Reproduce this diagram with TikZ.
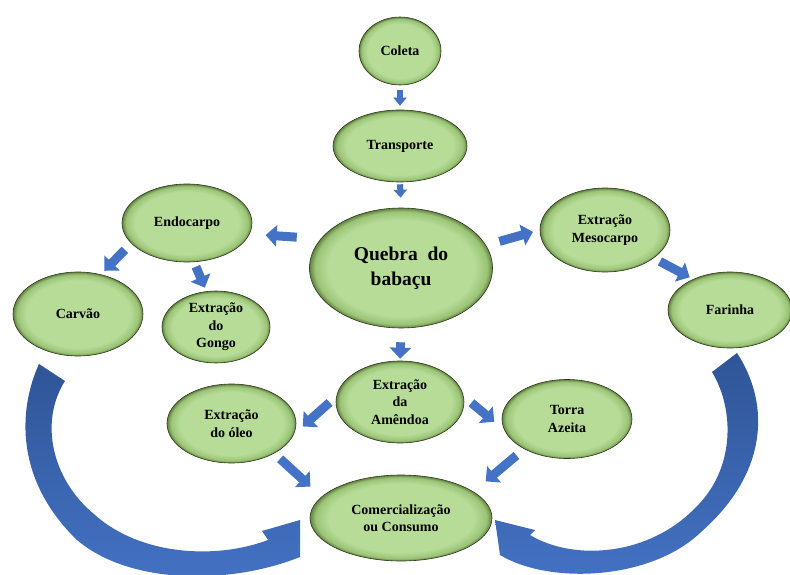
\documentclass[tikz,border=0pt]{standalone}
\usepackage{fontspec}
\setmainfont{Liberation Serif}
\usetikzlibrary{arrows.meta,shapes.geometric}

\definecolor{leaf}{RGB}{182,220,152}
\definecolor{leafrim}{RGB}{155,196,118}
\definecolor{leafedge}{RGB}{100,130,66}
\definecolor{rimline}{RGB}{44,58,30}
\definecolor{flowblue}{RGB}{68,114,196}
\definecolor{deepblue}{RGB}{47,85,151}

% bevelled look of the stage ellipses
\pgfdeclareradialshading{bevel}{\pgfpoint{0bp}{0bp}}{%
  color(0bp)=(leaf); color(20bp)=(leaf); color(23.5bp)=(leafrim);
  color(25bp)=(leafedge); color(50bp)=(leafedge)}

\begin{document}
\begin{tikzpicture}[x=1pt,y=-1pt,
  stage/.style={ellipse, draw=rimline, line width=0.6pt, shade, shading=bevel,
    inner sep=0pt, align=center, font=\bfseries\fontsize{14}{17.5}\selectfont},
  flow/.style={draw=flowblue, line width=9pt, -{Triangle[width=21pt,length=11pt]}},
  smallflow/.style={draw=flowblue, line width=6pt, -{Triangle[width=13pt,length=8pt]}},
  bigturn/.style={top color=deepblue, bottom color=flowblue}]
\useasboundingbox (0,0) rectangle (790,575);

% large return arrows into the final stage
\shade[bigturn] (39,364) .. controls (18,410) and (15,480) .. (77,540)
  .. controls (130,585) and (230,585) .. (300,557) -- (300,520) -- (262,531) -- (268,540)
  .. controls (215,560) and (140,555) .. (95,515)
  .. controls (50,478) and (40,420) .. (65,381) -- cycle;
\shade[bigturn] (737,353) .. controls (768,400) and (772,470) .. (700,533)
  .. controls (650,580) and (550,585) .. (500,555) -- (495,520) -- (535,530) -- (530,535)
  .. controls (575,562) and (650,555) .. (695,508)
  .. controls (735,470) and (735,410) .. (712,372) -- cycle;

% stages
\node[stage, minimum width=82pt, minimum height=68pt] (coleta) at (400,51) {Coleta};
\node[stage, minimum width=134pt, minimum height=72pt] (transp) at (400,146) {Transporte};
\node[stage, minimum width=183pt, minimum height=120pt,
  font=\bfseries\fontsize{19.5}{25}\selectfont] (quebra) at (401,268) {Quebra\ \ do\\babaçu};
\node[stage, minimum width=130pt, minimum height=78pt] (endo) at (187,223) {Endocarpo};
\node[stage, minimum width=130pt, minimum height=84pt] (meso) at (605,230) {Extração\\Mesocarpo};
\node[stage, minimum width=130pt, minimum height=84pt] (carvao) at (78,314) {Carvão};
\node[stage, minimum width=108pt, minimum height=72pt] (gongo) at (216,327) {Extração\\do\\Gongo};
\node[stage, minimum width=124pt, minimum height=76pt] (farinha) at (730,310) {Farinha};
\node[stage, minimum width=128pt, minimum height=82pt] (amendoa) at (400,402) {Extração\\da\\Amêndoa};
\node[stage, minimum width=129pt, minimum height=79pt] (oleo) at (231.5,423.5) {Extração\\do óleo};
\node[stage, minimum width=130pt, minimum height=79pt] (torra) at (567,419) {Torra\\Azeita};
\node[stage, minimum width=182pt, minimum height=86pt] (comerc) at (401,518) {Comercialização\\ou Consumo};

% flow between stages
\draw[smallflow, shorten <=5pt, shorten >=4pt] (coleta.south) -- (transp.north);
\draw[smallflow, shorten <=2pt, shorten >=10pt] (transp.south) -- (quebra.north);
\draw[flow, shorten <=24pt, shorten >=16pt] (quebra.160) -- (endo.-10);
\draw[flow, shorten <=14pt, shorten >=7pt] (quebra.15) -- (meso.180);
\draw[flow, shorten <=9pt, shorten >=5pt] (endo.200) -- (carvao.60);
\draw[flow, shorten <=5pt, shorten >=4pt] (endo.-80) -- (gongo.105);
\draw[flow, shorten <=7pt, shorten >=4pt] (meso.-30) -- (farinha.140);
\draw[flow, shorten <=14pt, shorten >=2pt] (quebra.south) -- (amendoa.north);
\draw[flow, shorten <=9pt, shorten >=12pt] (amendoa.175) -- (oleo.-10);
\draw[flow, shorten <=10pt, shorten >=13pt] (amendoa.5) -- (torra.190);
\draw[flow, shorten <=8pt, shorten >=15pt] (oleo.-35) -- (comerc.165);
\draw[flow, shorten <=10pt, shorten >=16pt] (torra.215) -- (comerc.20);
\end{tikzpicture}
\end{document}
